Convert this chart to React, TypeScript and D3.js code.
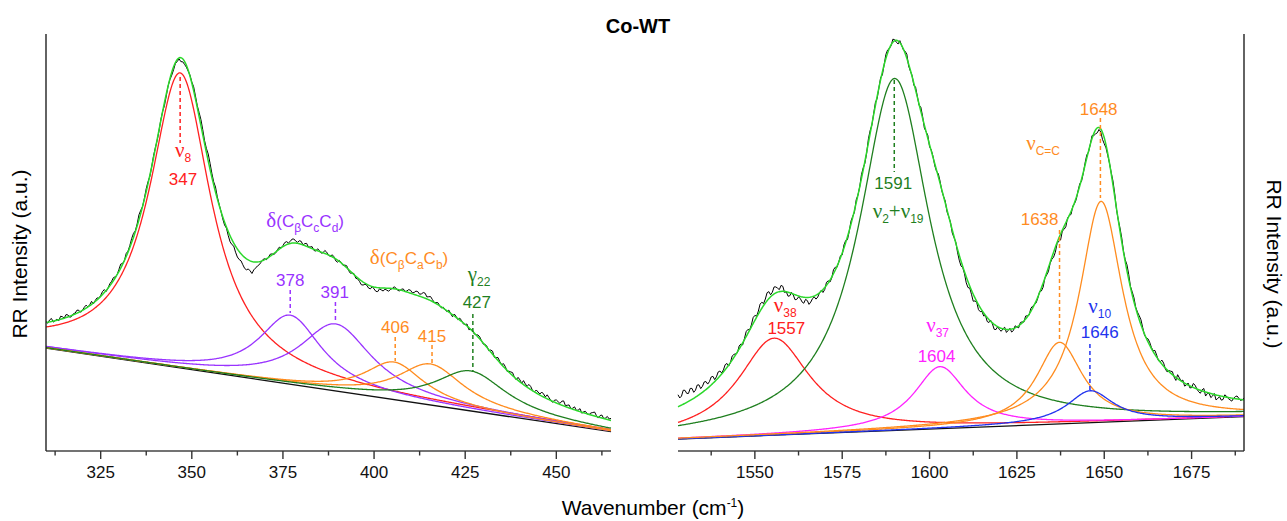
import React from 'react';
import * as d3 from 'd3';

// ---------- data ----------
const title = 'Co-WT';
const leftDomain = [310, 465];
const rightDomain = [1528, 1690];
const leftMajorTicks = [325, 350, 375, 400, 425, 450];
const leftMinorTicks = [312.5, 337.5, 362.5, 387.5, 412.5, 437.5, 462.5];
const rightMajorTicks = [1550, 1575, 1600, 1625, 1650, 1675];
const rightMinorTicks = [1537.5, 1562.5, 1587.5, 1612.5, 1637.5, 1662.5, 1687.5];

// linear baselines [wavenumber, intensity]
const leftBaseline = [[310, 103], [465, 19.3]];
const rightBaseline = [[1528, 12], [1690, 34.3]];

// fitted Lorentzian components: centre, height above baseline, half width
const leftCenters = [346.8, 377, 389.5, 405.5, 415.5, 426.5];
const leftHeights = [295, 69, 67, 37.5, 41, 40];
const leftHalfWidths = [10.2, 10.5, 12, 10, 11, 12];
const leftColors = ['#ff2020', '#9933ff', '#9933ff', '#ff8c1f', '#ff8c1f', '#1f7f1f'];

const rightCenters = [1555.5, 1590, 1603, 1637.2, 1646, 1649.1];
const rightHeights = [97, 352, 62, 81.6, 32, 221];
const rightHalfWidths = [12.5, 12.3, 9, 8, 8, 7.5];
const rightColors = ['#ff2020', '#1f7f1f', '#ff22ff', '#ff8c1f', '#2233ee', '#ff8c1f'];

// measured spectrum minus fit: whole wavenumbers and half wavenumbers
const leftResidualStart = 310;
const leftResidual = [
  1, 2, -1, 1, 3, 0, 2, -1, 1, 2, 0, 3, 1, -1, 2, 1, 3, 0, 2, 1,
  2, 1, 3, 2, 4, 2, 3, 1, 2, 0, 1, -1, 0, -2, -1, -3,
  -2, -4, -3, -1,
  1, 3, 4, 5, 4, 6, 3, 2,
  0, -3, -4, -5, -6, -8, -9, -11, -10, -8, -4, -1, 1, 0,
  1, -1, 2, 1, 3, 2, 4, 1, 3, 2, 0, 2, -1, 1, 0, 2, -1, 1, -2, 0, 1, -1, 0, -2,
  -2, -3, -1, -3, -2, -4, -2, -1, -3,
  0, 1, -1, 2, 1, 3, 2, 4, 3, 5, 3, 2, 1, 0,
  1, -1, 0, 2, -1, 1, 0, -2, 1, 0, 2, -1,
  1, 2, -1, 3, 0, 2, 1, 3, -1, 2, 4, 1, 3, 0, 2, 4, 1, 2, -1, 3, 1, 5, 2, 0, 3, 1, -1, 2, 0, 3, 1, 2, 0, 3, 2,
];
const leftResidualMid = [
  -1, 3, 0, -1, 2, 3, -1, 1, 3, -1, 2, 0, 3, 1, 0, 3, -1, 2, 3, 0,
  4, 0, 1, 4, 1, 5, 0, 3, -1, 2, -1, 1, -3, 0, -3, -1,
  -1, -3, -2, 1,
  4, 2, 6, 3, 7, 4, 5, 1,
  -2, -1, -6, -3, -8, -7, -11, -9, -12, -6, -3, 1, -1, 2,
  -1, 1, 0, 3, 1, 4, 2, 3, 0, 3, 1, -1, 2, -1, 3, 0, 2, -2, 1, -1, 2, -2, 1, -1,
  -4, -1, -3, 0, -4, -1, -3, -2, -1,
  2, -1, 1, 0, 3, 1, 4, 2, 5, 2, 4, 0, 2, -1,
  0, 2, -2, 1, 2, -1, 2, 0, -1, 2, 0, 1,
  -1, 3, 1, 1, 3, -1, 2, 0, 3, 0, 2, 4, 0, 3, 1, 3, 4, 0, 2, 2, 4, 1, 3, 1, 0, 3, 1, 0, 2, 4, -1, 3, 1, 1,
];
const rightResidualStart = 1528;
const rightResidual = [
  12, 9, 13, 8, 11, 7, 10, 6, 8, 5, 7, 3, 5,
  2, 4, 0, 3, -1, 2, 1, 4, 2, 5, 3, 6,
  4, 7, 3, 6, 2, 5,
  0, -3, -1, -4, -2, -6, -3, -5, -1, -3,
  1, -2, 2, -1, 3, 0, -2, 2, -1, 1, 3, 0,
  2, -1, 3, 1, -2, 2, 0, 3, -1, 1, -3, 0, 2, -2, 1, 3, -1, 2, 0, -2,
  1, -1, 2, 0, -2, 1, -1, -3, -5, -2, -6, -4, -3, -5, -1,
  0, -3, -1, -4, -2, 0, -3, 1, -2, 0, 2, -1, 1, 3, 0,
  -1, -3, 0, -4, -2, -5, -3, -1, -4, 0,
  1, -2, 2, -1, 3, 0, -2, -5, -3, -6, -2,
  1, 3, 0, 4, 2, 5, 3, 1, 4, 2, 0, 3, 1, 2,
  0, 3, -2, 2, -1, 4, 0, -3, 2, -1, 3, -2, 1, -4, 0, -2, -5, -1, -3, 1, -2, 0, 3, -1, 2,
];
const rightResidualMid = [
  8, 14, 9, 12, 6, 11, 5, 9, 4, 8, 2, 6, 1,
  5, -1, 4, 1, 3, -2, 5, 0, 6, 1, 7, 2,
  8, 2, 7, 4, 6, -1,
  -4, 1, -5, -1, -5, -2, -7, -2, -4, 0,
  -3, 3, -2, 4, -1, 2, 3, -3, 3, -2, 0, 4,
  -2, 4, -1, 3, 0, -3, 4, 0, 3, -2, 2, -1, 4, -1, -2, 1, 4, -3, 3, 1,
  -2, 3, -1, 2, 0, -3, 1, -5, -1, -6, -2, -7, -1, -4, -3,
  -4, 1, -5, 0, -3, 2, -1, -3, 2, -2, 1, 3, -1, 2, -2,
  1, -4, -2, -1, -5, -1, -6, -3, 1, -3,
  -1, 1, -2, 2, -1, 3, -4, -2, -7, -3, 0,
  4, -1, 3, 1, 6, 1, 4, 2, 5, -1, 3, 1, 4, -1,
  4, -1, 1, 3, -3, 2, 2, -1, -2, 4, 0, -3, 3, -1, -4, 1, -3, -4, 2, -1, -3, 2, 1, 0,
];

// annotations: parts ['n' sans, 'g' greek, 's' subscript]
type Part = [string, string];
type Ann = { x: number; y: number; color: string; parts: Part[] };
const leftLabels: Ann[] = [
  { x: 347.6, y: 294, color: '#ff2020', parts: [['ν', 'g'], ['8', 's']] },
  { x: 347.6, y: 266, color: '#ff2020', parts: [['347', 'n']] },
  { x: 381.1, y: 224, color: '#9933ff', parts: [['δ', 'g'], ['(C', 'n'], ['β', 's'], ['C', 'n'], ['c', 's'], ['C', 'n'], ['d', 's'], [')', 'n']] },
  { x: 377, y: 165, color: '#9933ff', parts: [['378', 'n']] },
  { x: 389.2, y: 153, color: '#9933ff', parts: [['391', 'n']] },
  { x: 409.6, y: 187, color: '#ff8c1f', parts: [['δ', 'g'], ['(C', 'n'], ['β', 's'], ['C', 'n'], ['a', 's'], ['C', 'n'], ['b', 's'], [')', 'n']] },
  { x: 405.8, y: 118.5, color: '#ff8c1f', parts: [['406', 'n']] },
  { x: 415.9, y: 109.5, color: '#ff8c1f', parts: [['415', 'n']] },
  { x: 428.8, y: 170, color: '#1f7f1f', parts: [['γ', 'g'], ['22', 's']] },
  { x: 428.2, y: 143, color: '#1f7f1f', parts: [['427', 'n']] },
];
const rightLabels: Ann[] = [
  { x: 1589.6, y: 261.7, color: '#1f7f1f', parts: [['1591', 'n']] },
  { x: 1591, y: 232.7, color: '#1f7f1f', parts: [['ν', 'g'], ['2', 's'], ['+', 'g'], ['ν', 'g'], ['19', 's']] },
  { x: 1558.7, y: 139.3, color: '#ff2020', parts: [['ν', 'g'], ['38', 's']] },
  { x: 1559, y: 117, color: '#ff2020', parts: [['1557', 'n']] },
  { x: 1602.3, y: 119.3, color: '#ff22ff', parts: [['ν', 'g'], ['37', 's']] },
  { x: 1602, y: 89.3, color: '#ff22ff', parts: [['1604', 'n']] },
  { x: 1648.4, y: 336, color: '#ff8c1f', parts: [['1648', 'n']] },
  { x: 1632.5, y: 301, color: '#ff8c1f', parts: [['ν', 'g'], ['C=C', 's']] },
  { x: 1631.5, y: 226, color: '#ff8c1f', parts: [['1638', 'n']] },
  { x: 1648.7, y: 137.7, color: '#2233ee', parts: [['ν', 'g'], ['10', 's']] },
  { x: 1648.7, y: 112.7, color: '#2233ee', parts: [['1646', 'n']] },
];
// dashed leader lines: wavenumber, from intensity, to intensity
const leftLeaders = [
  { x: 346.8, y1: 374, y2: 308, color: '#ff2020' },
  { x: 377, y1: 161, y2: 138, color: '#9933ff' },
  { x: 389.4, y1: 149, y2: 130, color: '#9933ff' },
  { x: 405.8, y1: 114, y2: 90, color: '#ff8c1f' },
  { x: 415.9, y1: 106, y2: 87, color: '#ff8c1f' },
  { x: 427.1, y1: 137, y2: 80, color: '#1f7f1f' },
];
const rightLeaders = [
  { x: 1589.9, y1: 371, y2: 279, color: '#1f7f1f' },
  { x: 1648.9, y1: 333, y2: 253, color: '#ff8c1f' },
  { x: 1637.2, y1: 221, y2: 109, color: '#ff8c1f' },
  { x: 1645.9, y1: 107, y2: 61, color: '#2233ee' },
];

// ---------- layout ----------
const W = 1287;
const H = 521;
const axisY = 451;
const topY = 34;
const sans = "'Liberation Sans', Arial, sans-serif";
const serif = "'Liberation Serif', 'Times New Roman', serif";
const FIT_COLOR = '#2ad82a';

const y = d3.scaleLinear().domain([0, 417]).range([axisY, topY]);

function lor(v: number, c: number, h: number, w: number) {
  const d = (v - c) / w;
  return h / (1 + d * d);
}

type PanelProps = {
  domain: number[];
  range: number[];
  baseline: number[][];
  centers: number[];
  heights: number[];
  widths: number[];
  colors: string[];
  residual: number[];
  residualMid: number[];
  residualStart: number;
  major: number[];
  minor: number[];
  labels: Ann[];
  leaders: { x: number; y1: number; y2: number; color: string }[];
  side: 'left' | 'right';
};

function Panel(p: PanelProps) {
  const x = d3.scaleLinear().domain(p.domain).range(p.range);
  const base = d3.scaleLinear().domain([p.baseline[0][0], p.baseline[1][0]]).range([p.baseline[0][1], p.baseline[1][1]]);
  const xs = d3.range(p.domain[0], p.domain[1] + 0.001, 0.25);
  const fit = (v: number) => base(v) + p.centers.reduce((s, c, i) => s + lor(v, c, p.heights[i], p.widths[i]), 0);
  const line = d3.line<[number, number]>().x((d) => x(d[0])).y((d) => y(d[1]));
  const comps = p.centers.map((c, i) => line(xs.map((v) => [v, base(v) + lor(v, c, p.heights[i], p.widths[i])] as [number, number])));
  const fitPath = line(xs.map((v) => [v, fit(v)] as [number, number]));
  const pts: [number, number][] = [];
  p.residual.forEach((r, i) => {
    const v = p.residualStart + i;
    pts.push([v, fit(v) + r]);
    if (i < p.residualMid.length) {
      const vm = v + 0.5;
      pts.push([vm, fit(vm) + p.residualMid[i]]);
    }
  });
  const dataPath = line(pts);
  const basePath = line(p.domain.map((v) => [v, base(v)] as [number, number]));
  const axX = p.side === 'left' ? p.range[0] : p.range[1];

  const renderParts = (parts: Part[]) => {
    let cur = 0;
    return parts.map(([t, k], i) => {
      const sub = k === 's';
      const target = sub ? 5 : 0;
      const dy = target - cur;
      cur = target;
      return (
        <tspan key={i} dy={dy} fontSize={sub ? 12 : k === 'g' ? 21 : 17} fontFamily={k === 'g' ? serif : sans}>
          {t}
        </tspan>
      );
    });
  };

  return (
    <g>
      <path d={basePath || ''} fill="none" stroke="#111" strokeWidth={1.3} />
      {comps.map((d, i) => (
        <path key={i} d={d || ''} fill="none" stroke={p.colors[i]} strokeWidth={1.3} />
      ))}
      <path d={dataPath || ''} fill="none" stroke="#000" strokeWidth={1} />
      <path d={fitPath || ''} fill="none" stroke={FIT_COLOR} strokeWidth={1.5} />
      {p.leaders.map((l, i) => (
        <line key={i} x1={x(l.x)} x2={x(l.x)} y1={y(l.y1)} y2={y(l.y2)} stroke={l.color} strokeWidth={1.5} strokeDasharray="4 3" />
      ))}
      {p.labels.map((a, i) => (
        <text key={i} x={x(a.x)} y={y(a.y)} fill={a.color} textAnchor="middle" fontFamily={sans} fontSize={17}>
          {renderParts(a.parts)}
        </text>
      ))}
      <line x1={p.range[0]} x2={p.range[1]} y1={axisY} y2={axisY} stroke="#444" strokeWidth={1.6} />
      <line x1={axX} x2={axX} y1={topY} y2={axisY} stroke="#222" strokeWidth={1.4} />
      {p.major.map((t) => (
        <g key={t}>
          <line x1={x(t)} x2={x(t)} y1={axisY} y2={axisY + 8} stroke="#333" strokeWidth={1.4} />
          <text x={x(t)} y={478} textAnchor="middle" fontFamily={sans} fontSize={17} fill="#111">
            {t}
          </text>
        </g>
      ))}
      {p.minor.map((t) => (
        <line key={t} x1={x(t)} x2={x(t)} y1={axisY} y2={axisY + 4.5} stroke="#333" strokeWidth={1.4} />
      ))}
    </g>
  );
}

export default function App() {
  return (
    <svg width={W} height={H} style={{ position: 'absolute', left: 0, top: 0, background: '#fff' }}>
      <rect x={0} y={0} width={W} height={H} fill="#fff" />
      <text x={638} y={33} textAnchor="middle" fontFamily={sans} fontWeight="bold" fontSize={20} fill="#000">
        {title}
      </text>
      <Panel
        domain={leftDomain}
        range={[46, 611]}
        baseline={leftBaseline}
        centers={leftCenters}
        heights={leftHeights}
        widths={leftHalfWidths}
        colors={leftColors}
        residual={leftResidual}
        residualMid={leftResidualMid}
        residualStart={leftResidualStart}
        major={leftMajorTicks}
        minor={leftMinorTicks}
        labels={leftLabels}
        leaders={leftLeaders}
        side="left"
      />
      <Panel
        domain={rightDomain}
        range={[678, 1244]}
        baseline={rightBaseline}
        centers={rightCenters}
        heights={rightHeights}
        widths={rightHalfWidths}
        colors={rightColors}
        residual={rightResidual}
        residualMid={rightResidualMid}
        residualStart={rightResidualStart}
        major={rightMajorTicks}
        minor={rightMinorTicks}
        labels={rightLabels}
        leaders={rightLeaders}
        side="right"
      />
      <text x={653} y={515} textAnchor="middle" fontFamily={sans} fontSize={21} fill="#000">
        Wavenumber (cm<tspan dy={-8} fontSize={12}>-1</tspan><tspan dy={8}>)</tspan>
      </text>
      <text transform="translate(27,254) rotate(-90)" textAnchor="middle" fontFamily={sans} fontSize={21} fill="#000">
        RR Intensity (a.u.)
      </text>
      <text transform="translate(1267,264) rotate(90)" textAnchor="middle" fontFamily={sans} fontSize={21} fill="#000">
        RR Intensity (a.u.)
      </text>
    </svg>
  );
}
